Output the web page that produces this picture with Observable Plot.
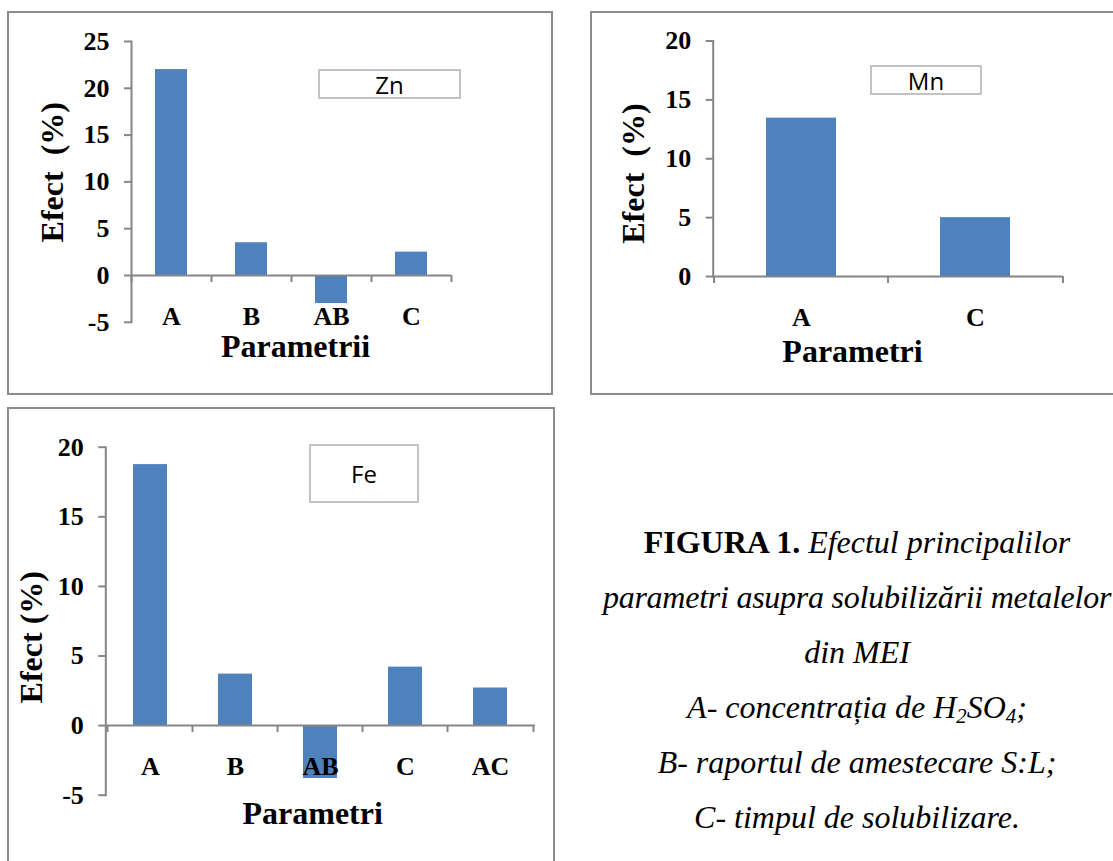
<!DOCTYPE html>
<html><head><meta charset="utf-8">
<script src="https://cdn.jsdelivr.net/npm/d3@7"></script>
<script src="https://cdn.jsdelivr.net/npm/@observablehq/plot@0.6"></script>
<style>
html,body{margin:0;padding:0;background:#fff;width:1113px;height:861px;overflow:hidden;position:relative;}
.holder{position:absolute;}
.frame{position:absolute;border:2px solid #8c8c8c;box-sizing:border-box;pointer-events:none;}
.legend{position:absolute;border:2px solid #c3c3c3;box-sizing:border-box;background:#fff;font-family:"Open Sans";font-size:24px;color:#000;display:flex;align-items:center;justify-content:center;}
.caption{position:absolute;left:557px;width:600px;top:515px;font-family:"Liberation Serif";font-size:32px;line-height:55px;text-align:center;white-space:nowrap;color:#000;}
.caption sub{font-size:0.65em;line-height:0;vertical-align:-0.22em;}
.caption .tight{letter-spacing:-0.25px;}
</style></head><body>
<script>
// ---- data ----
const znCats = ["A", "B", "AB", "C"];
const znVals = [22.0, 3.5, -3.0, 2.5];
const znTicks = [-5, 0, 5, 10, 15, 20, 25];

const mnCats = ["A", "C"];
const mnVals = [13.45, 5.0];
const mnTicks = [0, 5, 10, 15, 20];

const feCats = ["A", "B", "AB", "C", "AC"];
const feVals = [18.75, 3.7, -3.8, 4.2, 2.7];
const feTicks = [-5, 0, 5, 10, 15, 20];

const panelNames = ["Zn", "Mn", "Fe"];
const yTitles = ["Efect\u00a0 (%)", "Efect\u00a0 (%)", "Efect (%)"];
const xTitles = ["Parametrii", "Parametri", "Parametri"];

// ---- layout ----
const panels = [
  {cats: znCats, vals: znVals, ticks: znTicks, yDomain: [-5, 25], name: panelNames[0], yTitle: yTitles[0], xTitle: xTitles[0],
   left: 0, top: 0, width: 560, height: 400, ml: 131, mr: 109, mt: 41, mb: 78.2,
   ydx: -79, ydy: -9.7, xdx: 4, xdy: 24.6,
   frame: {left: 7, top: 11, w: 546, h: 384}, legend: {left: 318, top: 69, w: 143, h: 30}},
  {cats: mnCats, vals: mnVals, ticks: mnTicks, yDomain: [0, 20], name: panelNames[1], yTitle: yTitles[1], xTitle: xTitles[1],
   left: 585, top: 0, width: 528, height: 400, ml: 127.7, mr: 50.5, mt: 40.5, mb: 124,
   ydx: -79.2, ydy: 14.8, xdx: -35.6, xdy: 75.4,
   frame: {left: 590, top: 11, w: 600, h: 384}, legend: {left: 870, top: 65, w: 112, h: 30}},
  {cats: feCats, vals: feVals, ticks: feTicks, yDomain: [-5, 20], name: panelNames[2], yTitle: yTitles[2], xTitle: xTitles[2],
   left: 0, top: 400, width: 560, height: 461, ml: 105.3, mr: 25, mt: 46.7, mb: 66.3,
   ydx: -74, ydy: 16, xdx: -8, xdy: 18.4,
   frame: {left: 7, top: 407, w: 548, h: 500}, legend: {left: 309, top: 444, w: 110, h: 59}}
];

const axisColor = "#868686";
const tickFont = 26, titleFont = 32;

for (const p of panels) {
  const data = p.cats.map((c, i) => ({cat: c, val: p.vals[i]}));
  const step = (p.width - p.ml - p.mr) / p.cats.length;
  const chart = Plot.plot({
    width: p.width, height: p.height,
    marginLeft: p.ml, marginRight: p.mr, marginTop: p.mt, marginBottom: p.mb,
    x: {type: "band", domain: p.cats, paddingInner: 0.6, paddingOuter: 0.3, axis: null},
    y: {domain: p.yDomain, axis: null},
    style: {background: "transparent", fontFamily: "Liberation Serif", overflow: "visible", maxWidth: "none"},
    marks: [
      Plot.barY(data, {x: "cat", y: "val", fill: "#4f81bd"}),
      Plot.frame({anchor: "left", stroke: axisColor, strokeWidth: 2}),
      Plot.ruleY([0], {stroke: axisColor, strokeWidth: 2}),
      Plot.ruleX(p.cats, {x: d => d, y1: 0, y2: 0, dx: -step / 2, insetBottom: -7, stroke: axisColor, strokeWidth: 2}),
      Plot.ruleX([p.cats[p.cats.length - 1]], {x: d => d, y1: 0, y2: 0, dx: step / 2, insetBottom: -7, stroke: axisColor, strokeWidth: 2}),
      Plot.axisY({ticks: p.ticks, tickSize: 7, tickPadding: 15, tickFormat: d => String(d),
        stroke: axisColor, strokeWidth: 2, fill: "#000", fontSize: tickFont, fontWeight: "bold", label: null}),
      Plot.text(p.cats, {x: d => d, y: 0, text: d => d, dy: 49 - 0.32 * tickFont, lineAnchor: "middle", textAnchor: "middle",
        fontSize: tickFont, fontWeight: "bold", fill: "#000"}),
      Plot.text([p.yTitle], {frameAnchor: "left", rotate: -90, dx: p.ydx, dy: p.ydy, textAnchor: "middle", lineAnchor: "middle",
        fontSize: titleFont, fontWeight: "bold", fill: "#000"}),
      Plot.text([p.xTitle], {frameAnchor: "bottom", dx: p.xdx, dy: p.xdy + (0.32 * 31 - 0.32 * titleFont), textAnchor: "middle", lineAnchor: "middle",
        fontSize: titleFont, fontWeight: "bold", fill: "#000"})
    ]
  });
  const holder = document.createElement("div");
  holder.className = "holder";
  holder.style.left = p.left + "px";
  holder.style.top = p.top + "px";
  holder.style.width = p.width + "px";
  holder.style.height = p.height + "px";
  holder.appendChild(chart);
  document.body.appendChild(holder);

  const fr = document.createElement("div");
  fr.className = "frame";
  Object.assign(fr.style, {left: p.frame.left + "px", top: p.frame.top + "px", width: p.frame.w + "px", height: p.frame.h + "px"});
  document.body.appendChild(fr);

  const lg = document.createElement("div");
  lg.className = "legend";
  Object.assign(lg.style, {left: p.legend.left + "px", top: p.legend.top + "px", width: p.legend.w + "px", height: p.legend.h + "px"});
  lg.textContent = p.name;
  document.body.appendChild(lg);
}

const cap = document.createElement("div");
cap.className = "caption";
cap.innerHTML = `<div><b>FIGURA 1.</b> <i>Efectul principalilor</i></div>
<div><i class="tight">parametri asupra solubilizării metalelor</i></div>
<div><i>din MEI</i></div>
<div><i>A- concentrația de H<sub>2</sub>SO<sub>4</sub>;</i></div>
<div><i>B- raportul de amestecare S:L;</i></div>
<div><i>C- timpul de solubilizare.</i></div>`;
document.body.appendChild(cap);
</script>
</body></html>
